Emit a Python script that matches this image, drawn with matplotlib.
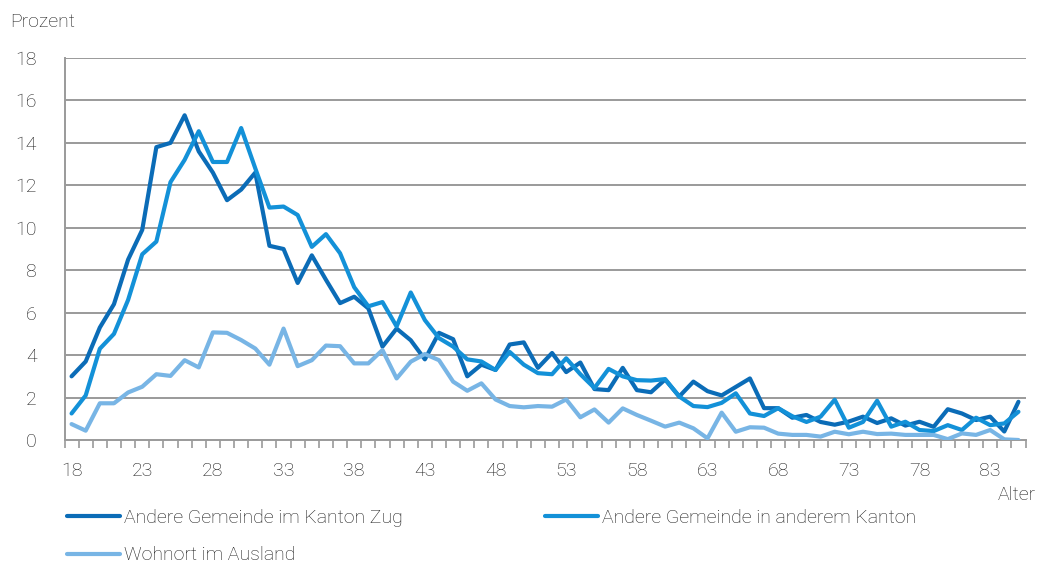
import matplotlib
matplotlib.use("Agg")
import matplotlib.pyplot as plt
import numpy as np

plt.rcParams['font.family'] = ['Roboto', 'DejaVu Sans']
plt.rcParams['font.weight'] = 'light'

ages = list(range(18, 86))

zug = [3.0, 3.7, 5.3, 6.4, 8.5, 9.9, 13.8, 14.0, 15.3, 13.6, 12.6, 11.3, 11.8, 12.6,
       9.15, 9.0, 7.4, 8.7, 7.55, 6.45, 6.75, 6.2, 4.4, 5.25, 4.7, 3.8, 5.05, 4.75,
       3.0, 3.55, 3.3, 4.5, 4.6, 3.4, 4.1, 3.2, 3.65, 2.4, 2.35, 3.4, 2.35, 2.25,
       2.85, 2.05, 2.75, 2.3, 2.1, 2.5, 2.9, 1.5, 1.5, 1.05, 1.18, 0.85, 0.72, 0.87,
       1.1, 0.8, 1.02, 0.68, 0.86, 0.62, 1.45, 1.25, 0.94, 1.1, 0.4, 1.8]

kanton = [1.25, 2.1, 4.3, 5.0, 6.6, 8.75, 9.35, 12.15, 13.2, 14.55, 13.1, 13.1, 14.7,
          12.8, 10.95, 11.0, 10.6, 9.1, 9.7, 8.8, 7.2, 6.3, 6.5, 5.35, 6.95, 5.65,
          4.8, 4.4, 3.8, 3.7, 3.3, 4.15, 3.55, 3.15, 3.1, 3.85, 3.1, 2.45, 3.35, 3.0,
          2.82, 2.8, 2.87, 2.05, 1.6, 1.55, 1.75, 2.2, 1.25, 1.13, 1.5, 1.12, 0.85,
          1.1, 1.9, 0.58, 0.85, 1.85, 0.63, 0.86, 0.47, 0.42, 0.7, 0.47, 1.05, 0.7,
          0.78, 1.33]

ausland = [0.75, 0.44, 1.73, 1.73, 2.24, 2.51, 3.1, 3.02, 3.76, 3.42, 5.07, 5.05,
           4.71, 4.31, 3.55, 5.25, 3.48, 3.76, 4.45, 4.42, 3.61, 3.61, 4.24, 2.9,
           3.69, 4.05, 3.76, 2.75, 2.32, 2.67, 1.91, 1.6, 1.54, 1.6, 1.57, 1.91,
           1.07, 1.44, 0.82, 1.49, 1.18, 0.91, 0.63, 0.82, 0.55, 0.08, 1.29, 0.39,
           0.6, 0.58, 0.3, 0.24, 0.24, 0.16, 0.39, 0.27, 0.39, 0.28, 0.3, 0.24, 0.24,
           0.24, 0.04, 0.31, 0.24, 0.47, 0.03, 0.0]

labels = ["Andere Gemeinde im Kanton Zug", "Andere Gemeinde in anderem Kanton",
          "Wohnort im Ausland"]
colors = ["#0b6cb7", "#1391d8", "#78b5e5"]

yticks = list(range(0, 19, 2))
FS = 14

fig = plt.figure(figsize=(10.4, 5.63), dpi=100)
ax = fig.add_axes([64.5/1040, 1-440/563, (1025.5-64.5)/1040, (440-58)/563])

x = np.arange(len(ages))
lines = []
for data, lab, c in zip([zug, kanton, ausland], labels, colors):
    ln, = ax.plot(x, data, color=c, lw=3.0, label=lab, solid_joinstyle='round',
                  solid_capstyle='round', zorder=3)
    lines.append(ln)

ax.set_xlim(-0.5, len(ages) - 0.5)
ax.set_ylim(0, 18)
ax.set_yticks(yticks)
ax.set_yticklabels([str(v) for v in yticks])
for v in yticks[1:]:
    ax.axhline(v, color="#9a9a9a", lw=1.4, zorder=1)

major = [i for i, a in enumerate(ages) if (a - 18) % 5 == 0]
ax.set_xticks(major)
ax.set_xticklabels([str(ages[i]) for i in major])
ax.set_xticks(np.arange(-0.5, len(ages) + 0.5, 1), minor=True)
ax.tick_params(axis='x', which='major', length=0, pad=16, labelsize=FS, colors='#1a1a1a')
ax.tick_params(axis='x', which='minor', length=6, width=1.2, color='#9a9a9a')
ax.tick_params(axis='y', length=0, pad=20, labelsize=FS, colors='#1a1a1a')

for s in ['top', 'right']:
    ax.spines[s].set_visible(False)
for s in ['left', 'bottom']:
    ax.spines[s].set_color('#9a9a9a')
    ax.spines[s].set_linewidth(1.4)

fig.text(10/1040, 1-22/563, "Prozent", fontsize=FS, color='#1a1a1a', va='center', ha='left')
fig.text(1036/1040, 1-495/563, "Alter", fontsize=FS, color='#1a1a1a', va='center', ha='right')

leg = fig.legend([lines[0], lines[2], lines[1]], [labels[0], labels[2], labels[1]],
                 ncol=2, loc='upper left', bbox_to_anchor=(67/1040, 1-509/563),
                 frameon=False, fontsize=FS, handlelength=2.73, handletextpad=0.2,
                 columnspacing=7.3, labelspacing=1.0, borderaxespad=0, borderpad=0)
for t in leg.get_texts():
    t.set_color('#1a1a1a')

fig.savefig("out.png", dpi=100)
